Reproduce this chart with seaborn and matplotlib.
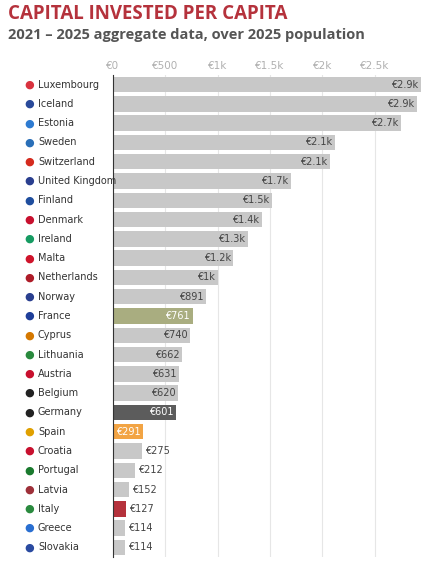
import matplotlib
matplotlib.use("Agg")
import matplotlib.pyplot as plt
import seaborn as sns
import pandas as pd

countries = ["Luxembourg","Iceland","Estonia","Sweden","Switzerland","United Kingdom","Finland","Denmark","Ireland","Malta","Netherlands","Norway","France","Cyprus","Lithuania","Austria","Belgium","Germany","Spain","Croatia","Portugal","Latvia","Italy","Greece","Slovakia"]
values = [2940,2900,2750,2120,2070,1700,1520,1420,1290,1150,1000,891,761,740,662,631,620,601,291,275,212,152,127,114,114]
labels = ["€2.9k","€2.9k","€2.7k","€2.1k","€2.1k","€1.7k","€1.5k","€1.4k","€1.3k","€1.2k","€1k","€891","€761","€740","€662","€631","€620","€601","€291","€275","€212","€152","€127","€114","€114"]
flag_colors = ["#d9333f","#2a4a9a","#2e7bd1","#2a6fb8","#d52b1e","#2a3f8f","#1f4e9e","#c8102e","#169b62","#cf142b","#ae1c28","#2a3f8f","#1f3f9a","#d57800","#2a8a3e","#c8102e","#222222","#222222","#e0a000","#c8102e","#1a7a2e","#9e3039","#2a8a3e","#2a6fd1","#2a4aa0"]
ticks = [0,500,1000,1500,2000,2500]
tick_labels = ["€0","€500","€1k","€1.5k","€2k","€2.5k"]
highlight = {"France":"#a9ad80","Germany":"#5c5c5c","Spain":"#f2a444","Italy":"#b5323c"}

df = pd.DataFrame({"country":countries,"value":values})
palette = {c: highlight.get(c,"#c8c8c8") for c in countries}

fig = plt.figure(figsize=(4.3,5.64), dpi=100)
ax = fig.add_axes([113/430, 7/564, 312/430, 482/564])
sns.barplot(data=df, y="country", x="value", hue="country", palette=palette,
            legend=False, ax=ax, width=0.8, saturation=1)
ax.set_xlim(0, 2980)
ax.set_ylim(len(countries)-0.5, -0.5)
ax.xaxis.tick_top()
ax.set_xticks(ticks)
ax.set_xticklabels(tick_labels, color="#b0b0b0", fontsize=7.5)
ax.tick_params(axis="x", length=0, pad=3)
ax.tick_params(axis="y", length=0)
ax.set_yticks(range(len(countries)))
ax.set_yticklabels([])
ax.set_xlabel(""); ax.set_ylabel("")
ax.grid(axis="x", color="#e6e6e6", lw=0.8)
ax.set_axisbelow(True)
for s in ["top","right","bottom"]:
    ax.spines[s].set_visible(False)
ax.spines["left"].set_color("#333333")
for i,(c,v,l) in enumerate(zip(countries,values,labels)):
    if v >= 290:
        col = "white" if c in highlight else "#444444"
        ax.text(v-25, i, l, ha="right", va="center", fontsize=7, color=col)
    else:
        ax.text(v+30, i, l, ha="left", va="center", fontsize=7, color="#444444")
    ax.annotate(c, xy=(0,i), xycoords=("axes fraction","data"), xytext=(-54,0),
                textcoords="offset points", ha="left", va="center", fontsize=7, color="#333333")
    ax.annotate("●", xy=(0,i), xycoords=("axes fraction","data"), xytext=(-64,0),
                textcoords="offset points", ha="left", va="center", fontsize=8, color=flag_colors[i])
fig.text(8/430, 1-14/564, "CAPITAL INVESTED PER CAPITA", fontsize=13.5, fontweight="bold",
         color="#b5323c", va="center", family="Open Sans")
fig.text(8/430, 1-35/564, "2021 – 2025 aggregate data, over 2025 population", fontsize=10.5,
         fontweight="bold", color="#555555", va="center", family="Open Sans")
fig.savefig("out.png", dpi=100)
